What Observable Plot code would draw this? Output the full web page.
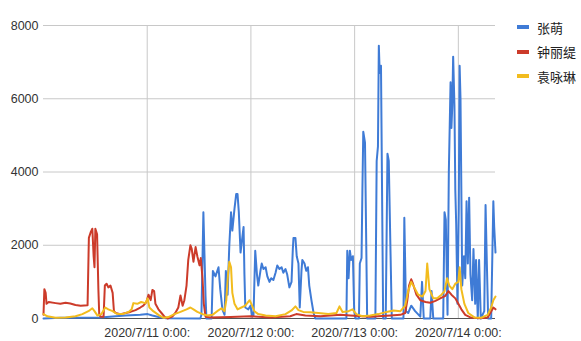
<!DOCTYPE html>
<html>
<head>
<meta charset="utf-8">
<script src="https://cdn.jsdelivr.net/npm/d3@7"></script>
<script src="https://cdn.jsdelivr.net/npm/@observablehq/plot@0.6"></script>
<style>
  html, body { margin: 0; padding: 0; background: #fff; }
  #wrap { position: relative; width: 581px; height: 341px; overflow: hidden; }
  #legend { position: absolute; left: 517px; top: 15px; font-family: "Noto Sans CJK SC", "Liberation Sans", sans-serif; font-size: 13px; color: #222; }
  .item { height: 24.5px; display: flex; align-items: center; }
  .sw { width: 12px; height: 4px; margin-right: 8px; }
</style>
</head>
<body>
<div id="wrap"><div id="legend"></div></div>
<script>
// Start of time axis: 2020/7/10 0:00 ; times are hours since then
const startMs = Date.UTC(2020, 6, 10, 0, 0);
const endHours = 104.6;

const seriesNames = ["张萌", "钟丽缇", "袁咏琳"];
const seriesColors = ["#3f7bd6", "#cc3b2a", "#f2bc1e"];

const dayTickLabels = ["2020/7/11 0:00:\n00", "2020/7/12 0:00:\n00", "2020/7/13 0:00:\n00", "2020/7/14 0:00:\n00"];
const dayTickHours = [24, 48, 72, 96];
const yTicks = [0, 2000, 4000, 6000, 8000];

// 张萌
const zhangHours = [0, 3.9, 13.2, 16.7, 19.0, 22.4, 24.1, 25.2, 26.6, 28.2, 36.3, 36.55, 37.0, 37.5, 37.7,
  38.9, 39.2, 39.8, 40.5, 40.9, 41.4, 41.9, 42.2, 42.6, 43.0, 43.4, 43.7, 44.2, 44.6, 44.9, 45.2, 45.6, 45.9, 46.3, 46.5, 46.7,
  47.4, 47.9, 48.3, 48.6, 49.0, 49.4, 49.7, 50.2, 50.5, 50.9, 51.4, 51.8, 52.3, 52.7, 53.2, 53.7, 54.1, 54.6, 55.1, 55.5, 56.0,
  56.4, 56.9, 57.4, 57.7, 57.85, 58.3, 58.6, 59.0, 59.3, 59.7, 59.9, 60.4, 60.8, 61.2, 61.5, 62.0, 62.5, 62.9,
  70.1, 70.3, 70.6, 70.9, 71.2, 71.6, 71.9, 72.2, 73.0, 73.2, 73.6, 73.8, 74.0, 74.4, 74.9,
  76.8, 77.1, 77.4, 77.6, 77.8, 78.1, 78.6, 79.2, 79.6, 79.9, 80.6, 83.3, 83.5, 83.9, 84.4, 85.1, 86.0, 87.2, 87.6, 88.0,
  89.5, 89.8, 90.2, 92.5, 92.8, 93.1, 93.5, 93.8, 94.2, 94.4, 94.6, 94.8, 95.1, 95.3, 95.5, 95.8, 96.1, 96.3, 96.5,
  96.9, 97.3, 97.6, 97.9, 98.2, 98.5, 98.8, 99.2, 99.5, 99.9, 100.1, 100.5, 100.8, 101.2, 102.0, 102.3, 102.6, 102.9,
  103.6, 104.1, 104.3, 104.6];
const zhangValues = [0, 20, 30, 60, 80, 100, 120, 80, 40, 10, 0, 100, 2900, 600, 0,
  0, 1300, 1150, 1400, 800, 250, 100, 1300, 650, 2000, 2900, 2400, 3000, 3400, 3400, 2900, 1800, 2100, 2500, 1200, 300,
  250, 350, 50, 100, 1850, 1200, 900, 1300, 1500, 1350, 1400, 1150, 1000, 1100, 1050, 1250, 1450, 1350, 1400, 1250, 1350,
  1200, 850, 1000, 1900, 2200, 2200, 1700, 1500, 300, 1300, 1600, 1500, 1300, 1400, 900, 500, 150, 0,
  0, 1850, 1100, 1850, 1600, 1700, 200, 0, 0, 1500, 1650, 3500, 5100, 4800, 0,
  0, 4300, 4700, 7450, 6700, 6900, 0, 0, 4500, 4300, 0, 0, 2750, 200, 150, 350, 200, 50, 1000, 0,
  0, 750, 0, 0, 2900, 2700, 100, 4000, 6450, 5200, 5800, 7150, 5800, 3500, 2600, 400, 3000, 6900, 6000,
  900, 1700, 1100, 3200, 1500, 3300, 1200, 500, 1900, 400, 1600, 0, 1600, 0, 200, 3100, 1500, 0,
  0, 3200, 2500, 1800];

// 钟丽缇
const zhongHours = [0, 0.2, 0.5, 0.7, 1.2, 2.8, 3.9, 5.1, 6.2, 7.4, 8.6, 10.2, 10.5, 10.9, 11.3, 11.6, 11.8, 12.0, 12.4,
  12.7, 12.9, 13.2, 13.9, 14.2, 14.6, 15.0, 15.5, 16.0, 16.3, 16.7, 17.8, 19.0, 20.1, 21.3, 22.4, 23.1, 23.8, 24.3, 24.8,
  25.2, 25.6, 25.9, 26.6, 27.3, 28.0, 28.7, 29.8, 30.5, 31.2, 31.7, 32.2, 32.6, 33.1, 33.5, 34.0, 34.3, 34.7, 35.2, 35.6,
  36.1, 36.4, 36.8, 37.1, 37.5, 38.6, 43.3, 47.9, 52.5, 57.1, 58.5, 60.6, 64.1, 68.7, 71.0, 75.6, 80.3, 82.6, 83.7, 84.2,
  84.6, 85.1, 85.5, 86.3, 87.2, 88.4, 89.5, 90.7, 91.8, 93.0, 93.7, 94.4, 95.3, 96.0, 96.7, 97.6, 98.8, 101.1, 102.8,
  103.4, 104.1, 104.6];
const zhongValues = [100, 800, 700, 400, 450, 420, 400, 430, 410, 370, 350, 360, 2200, 2350, 2450, 1700, 1400, 2450, 2300,
  800, 100, 50, 50, 900, 950, 850, 900, 700, 200, 150, 120, 150, 180, 230, 300, 350, 450, 650, 500,
  780, 750, 400, 250, 150, 50, 0, 50, 150, 300, 630, 350, 500, 900, 1600, 2000, 1900, 1550, 1950, 1700,
  1450, 1650, 1100, 400, 50, 30, 40, 60, 30, 60, 120, 80, 60, 100, 80, 50, 80, 100, 150, 500,
  900, 1070, 950, 650, 500, 450, 430, 480, 550, 620, 750, 650, 550, 400, 250, 100, 30, 10, 30,
  150, 300, 250];

// 袁咏琳
const yuanHours = [0, 0.9, 2.8, 5.1, 7.4, 9.0, 10.4, 11.3, 11.8, 12.5, 13.4, 14.3, 15.0, 16.0, 16.9, 18.3, 19.7, 20.4,
  20.8, 21.7, 22.6, 23.6, 24.1, 24.5, 25.4, 26.6, 27.8, 28.9, 30.3, 31.7, 33.1, 34.0, 34.7, 35.6, 36.8, 37.9, 39.1, 40.2,
  41.2, 41.9, 42.3, 42.7, 43.0, 43.4, 43.7, 44.2, 44.9, 45.8, 46.7, 47.7, 48.1, 48.8, 49.7, 51.4, 53.7, 56.0, 57.4, 58.3,
  59.0, 60.1, 61.7, 63.6, 65.9, 67.8, 68.5, 69.2, 70.6, 71.5, 72.4, 73.8, 75.6, 77.5, 79.4, 81.0, 82.6, 83.7, 84.4, 85.1,
  85.8, 86.7, 87.7, 88.4, 88.8, 89.3, 90.2, 91.1, 92.1, 92.8, 93.4, 93.9, 94.6, 95.3, 96.0, 96.3, 96.7, 97.4, 98.3, 99.7,
  101.3, 102.8, 103.6, 104.1, 104.6];
const yuanValues = [120, 60, 20, 30, 60, 120, 200, 280, 200, 80, 120, 300, 250, 200, 130, 120, 180, 250,
  420, 400, 450, 420, 550, 300, 200, 100, 20, 40, 120, 180, 250, 300, 250, 180, 120, 80, 100, 200,
  280, 200, 500, 1200, 1550, 1400, 700, 400, 250, 300, 350, 500, 400, 200, 120, 80, 60, 120, 220, 330,
  230, 180, 170, 150, 120, 150, 330, 180, 200, 250, 120, 60, 80, 120, 180, 220, 200, 350, 750, 1000,
  850, 650, 600, 750, 1500, 800, 550, 550, 650, 750, 1100, 900, 800, 950, 1000, 1400, 800, 400, 150, 30,
  20, 100, 300, 500, 600];

const toDate = h => new Date(startMs + h * 3600e3);
const build = (name, hours, values) => hours.map((h, i) => ({name, t: toDate(h), v: values[i]}));
const data = [
  ...build(seriesNames[0], zhangHours, zhangValues),
  ...build(seriesNames[1], zhongHours, zhongValues),
  ...build(seriesNames[2], yuanHours, yuanValues)
];
const dayTicks = dayTickHours.map(toDate);
const labelOf = new Map(dayTicks.map((d, i) => [+d, dayTickLabels[i]]));

const chart = Plot.plot({
  width: 581,
  height: 341,
  marginLeft: 43,
  marginRight: 86,
  marginTop: 25,
  marginBottom: 23,
  style: {fontFamily: "'Liberation Sans', Arial, sans-serif", fontSize: "12.5px", color: "#333", background: "transparent"},
  x: {type: "utc", domain: [toDate(0), toDate(endHours)]},
  y: {domain: [0, 8000]},
  color: {domain: seriesNames, range: seriesColors},
  marks: [
    Plot.ruleY(yTicks, {stroke: "#c8c8c8", strokeWidth: 1}),
    Plot.ruleX(dayTicks, {stroke: "#c8c8c8", strokeWidth: 1}),
    Plot.ruleY([0], {stroke: "#555", strokeWidth: 1}),
    Plot.axisY({ticks: yTicks, tickSize: 0, tickPadding: 5, label: null, fill: "#333",
      tickFormat: d => String(d)}),
    Plot.axisX({ticks: dayTicks, tickSize: 0, tickPadding: 7, label: null, fill: "#333", lineHeight: 1.25,
      tickFormat: d => labelOf.get(+d)}),
    Plot.line(data, {x: "t", y: "v", z: "name", stroke: "name", strokeWidth: 2, curve: "linear"})
  ]
});
const wrap = document.getElementById("wrap");
wrap.insertBefore(chart, wrap.firstChild);

const legend = document.getElementById("legend");
seriesNames.forEach((n, i) => {
  const it = document.createElement("div");
  it.className = "item";
  const sw = document.createElement("span");
  sw.className = "sw";
  sw.style.background = seriesColors[i];
  const tx = document.createElement("span");
  tx.textContent = n;
  it.appendChild(sw);
  it.appendChild(tx);
  legend.appendChild(it);
});
</script>
</body>
</html>
